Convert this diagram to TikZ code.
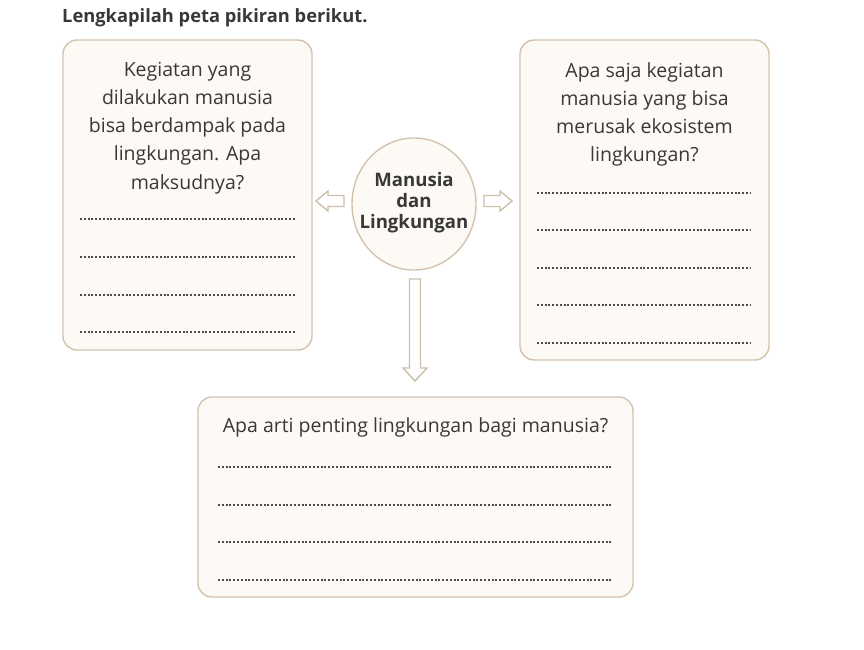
\documentclass[tikz,border=0pt]{standalone}
\usepackage{fontspec}
\setmainfont{Open Sans}
\usetikzlibrary{calc,shapes.geometric}
\definecolor{bordc}{HTML}{D3C3AE}
\definecolor{fillc}{HTML}{FDFAF6}
\definecolor{txt}{HTML}{383838}
\definecolor{arrc}{HTML}{CDBFAA}
\tikzset{
  panel/.style={draw=bordc, fill=fillc, line width=1.4pt, rounded corners=14pt, inner sep=0pt},
  dots/.style={draw=txt!90, line width=1.2pt, dash pattern=on 2pt off 1.8pt},
  hollow/.style={draw=arrc, line width=1.4pt, fill=white, line join=miter},
  qtext/.style={text=txt, align=center, inner sep=0pt, anchor=north, font=\fontsize{19.5}{28.3}\selectfont},
}
\begin{document}
\begin{tikzpicture}[x=1pt,y=-1pt]
\useasboundingbox[fill=white] (0,0) rectangle (864,650);
% title
\node[anchor=base west, inner sep=0pt, text=txt, font=\bfseries\fontsize{18.3}{20}\selectfont] (title) at (62,22.5) {Lengkapilah peta pikiran berikut.};
% panels
\node[panel, minimum width=249pt, minimum height=310pt] (L) at (187.5,195) {};
\node[panel, minimum width=249pt, minimum height=320pt] (R) at (644.5,200) {};
\node[panel, minimum width=435pt, minimum height=200pt] (B) at (415.5,497) {};
% centre
\node[ellipse, draw=bordc, fill=fillc, line width=1.4pt, minimum width=124pt, minimum height=132pt] (C) at (414,204) {};
\node[text=txt, align=center, inner sep=0pt, font=\bfseries\fontsize{18.6}{21}\selectfont] (Ct) at (414,203) {Manusia\\dan\\Lingkungan};
% texts
\node[qtext] (Lt) at (187.5,61.5) {Kegiatan yang\\dilakukan manusia\\bisa berdampak pada\\lingkungan. Apa\\maksudnya?};
\node[qtext] (Rt) at (644.5,62) {Apa saja kegiatan\\manusia yang bisa\\merusak ekosistem\\lingkungan?};
\node[qtext] (Bt) at (415.5,417) {Apa arti penting lingkungan bagi manusia?};
% dotted lines
\foreach \y in {219,257,295,332} \draw[dots] (80,\y) -- (295,\y);
\foreach \y in {193,230,268,305,343} \draw[dots] (537,\y) -- (750,\y);
\foreach \y in {467,505,542,580} \draw[dots] (218,\y) -- (613,\y);
% hollow arrows
\draw[hollow] (316,201) -- (328,191) -- (328,195.5) -- (344,195.5) -- (344,206.5) -- (328,206.5) -- (328,211) -- cycle;
\draw[hollow] (512,201) -- (500,191) -- (500,195.5) -- (484,195.5) -- (484,206.5) -- (500,206.5) -- (500,211) -- cycle;
\draw[hollow] (415,381) -- (403,368) -- (409.5,368) -- (409.5,279) -- (420.5,279) -- (420.5,368) -- (427,368) -- cycle;
\end{tikzpicture}
\end{document}
